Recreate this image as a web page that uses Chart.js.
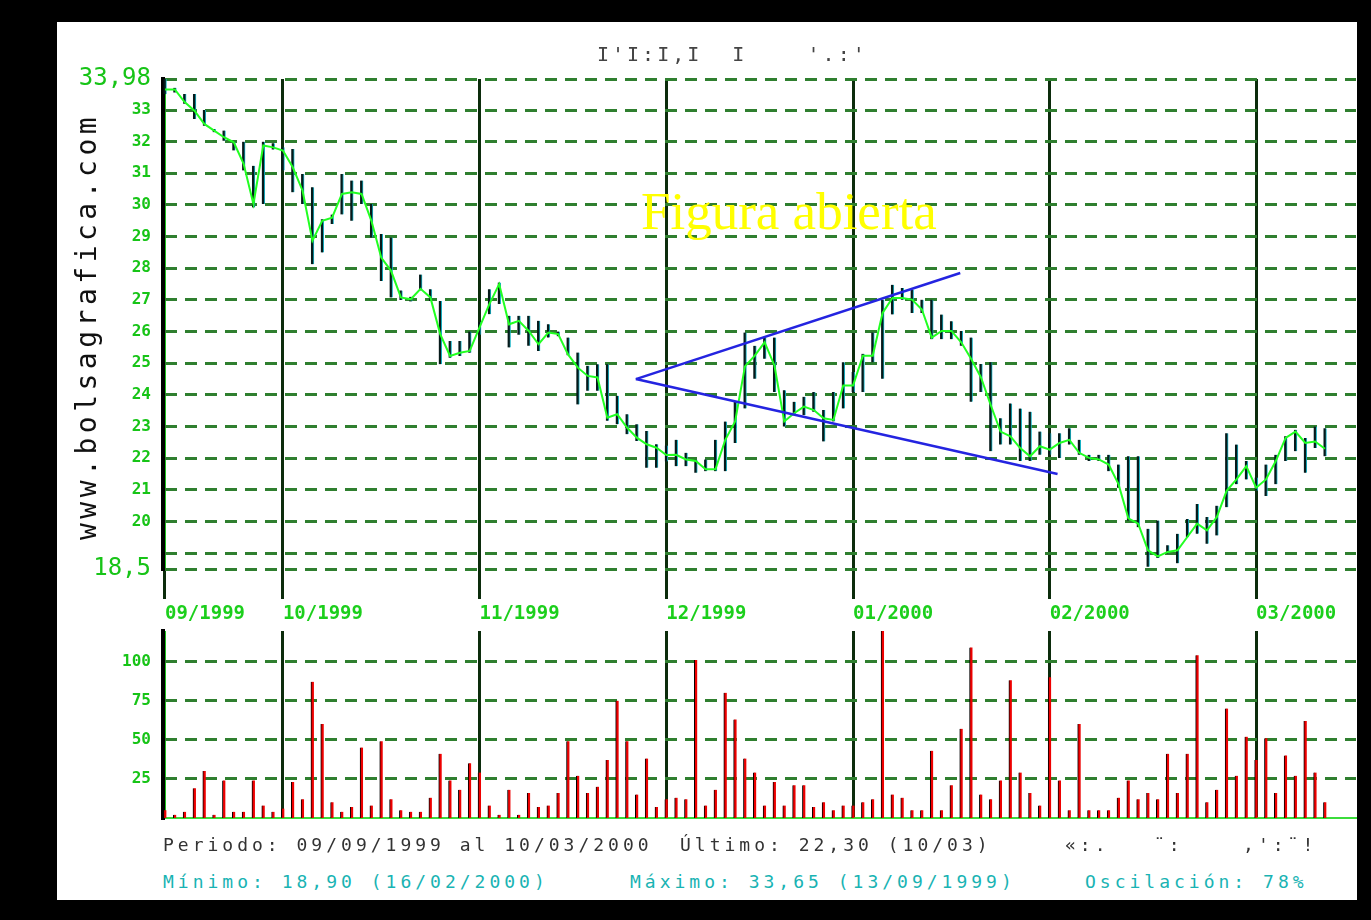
<!DOCTYPE html>
<html>
<head>
<meta charset="utf-8">
<script src="https://cdn.jsdelivr.net/npm/chart.js@4.4.1/dist/chart.umd.min.js"></script>
<style>
  html, body { margin: 0; padding: 0; background: #000; width: 1371px; height: 920px; overflow: hidden; }
  #sheet { position: absolute; left: 57px; top: 22px; width: 1300px; height: 878px; background: #fff; }
  canvas { position: absolute; }
  .txt { position: absolute; white-space: pre; font-family: "DejaVu Sans Mono", monospace; }
  .info { font-size: 18px; line-height: 20px; letter-spacing: 4px; }
</style>
</head>
<body>
<div id="sheet"></div>
<canvas id="price" width="1300" height="600" style="left:57px;top:22px"></canvas>
<canvas id="volume" width="1300" height="260" style="left:57px;top:596px"></canvas>

<div class="txt" style="left:597px;top:42px;font-size:20px;line-height:24px;color:#444;letter-spacing:3px">I'I:I,I  I    '.:'</div>
<div class="txt" style="left:641px;top:185px;font-family:'Liberation Serif',serif;font-size:53px;line-height:53px;color:#ffff00">Figura abierta</div>
<div class="txt" style="left:-133px;top:303px;width:440px;height:34px;line-height:34px;font-size:28px;letter-spacing:4.5px;color:#111;transform:rotate(-90deg)">www.bolsagrafica.com</div>

<div class="txt info" style="left:163px;top:835px;color:#333">Periodo: 09/09/1999 al 10/03/2000</div>
<div class="txt info" style="left:680px;top:835px;color:#333">Último: 22,30 (10/03)</div>
<div class="txt info" style="left:1065px;top:835px;color:#333">«:.   ¨:    ,':¨!</div>
<div class="txt info" style="left:163px;top:872px;color:#19b3b3">Mínimo: 18,90 (16/02/2000)</div>
<div class="txt info" style="left:630px;top:872px;color:#19b3b3">Máximo: 33,65 (13/09/1999)</div>
<div class="txt info" style="left:1085px;top:872px;color:#19b3b3">Oscilación: 78%</div>

<script>
// month boundaries (index of first session of each month)
const monthStarts = [0, 12, 32, 51, 70, 90, 111];
const monthLabels = ['09/1999', '10/1999', '11/1999', '12/1999', '01/2000', '02/2000', '03/2000'];

// daily sessions 09/09/1999 - 10/03/2000
const highs = [
  33.98, 33.70, 33.51, 33.51, 33.00, 32.40, 32.35, 32.00, 32.00, 31.24,
  32.00, 31.95, 31.82, 31.77, 30.98, 30.56, 29.55, 29.70, 30.98, 30.77,
  30.77, 30.03, 29.08, 28.97, 27.30, 27.10, 27.80, 27.34, 26.97, 25.70,
  25.70, 26.00, 26.30, 27.34, 27.55, 26.50, 26.50, 26.50, 26.34, 26.23,
  26.00, 25.81, 25.34, 24.92, 24.97, 24.97, 23.97, 23.39, 23.07, 22.86,
  22.44, 22.40, 22.58, 22.17, 21.95, 21.96, 22.58, 23.16, 23.78, 25.97,
  25.55, 25.81, 25.81, 24.15, 23.78, 23.94, 24.09, 23.52, 24.09, 25.03,
  24.72, 25.30, 25.97, 27.01, 27.48, 27.38, 27.32, 27.01, 27.01, 26.54,
  26.33, 26.02, 25.81, 24.98, 25.03, 23.26, 23.73, 23.57, 23.47, 22.84,
  22.79, 22.79, 22.95, 22.58, 22.11, 22.11, 22.11, 21.80, 22.06, 22.06,
  19.77, 20.03, 19.25, 19.61, 20.08, 20.55, 20.14, 20.50, 22.79, 22.43,
  21.91, 21.39, 21.80, 22.11, 22.69, 22.90, 22.64, 23.00, 22.95
];
const lows = [
  33.50, 33.55, 33.20, 32.72, 32.50, 32.30, 32.03, 31.72, 31.09, 29.92,
  30.03, 31.75, 31.09, 30.40, 30.03, 28.13, 28.50, 29.40, 29.70, 29.50,
  30.03, 28.97, 27.60, 27.08, 27.00, 26.95, 27.30, 26.97, 24.97, 25.17,
  25.23, 25.33, 25.90, 26.55, 26.87, 25.50, 25.90, 25.55, 25.39, 25.81,
  25.85, 25.25, 23.70, 24.13, 24.13, 23.18, 23.07, 22.76, 22.54, 21.70,
  21.70, 21.90, 21.75, 21.75, 21.54, 21.59, 21.59, 21.59, 22.48, 23.57,
  24.51, 25.14, 24.09, 23.00, 23.36, 23.36, 23.47, 22.53, 23.16, 23.57,
  24.09, 24.09, 25.03, 24.51, 26.54, 27.01, 26.59, 26.59, 25.76, 25.76,
  25.76, 25.55, 23.78, 24.09, 22.22, 22.43, 22.43, 21.91, 21.91, 22.11,
  22.11, 22.01, 22.43, 22.11, 21.91, 21.91, 21.59, 21.07, 20.03, 19.82,
  18.57, 18.85, 18.99, 18.68, 19.50, 19.61, 19.30, 19.56, 20.45, 21.18,
  21.33, 20.97, 20.81, 21.18, 21.91, 22.22, 21.54, 22.32, 22.06
];
const closes = [
  33.65, 33.65, 33.25, 32.98, 32.56, 32.35, 32.14, 31.98, 31.30, 30.03,
  31.88, 31.82, 31.72, 31.19, 30.45, 28.87, 29.50, 29.60, 30.35, 30.40,
  30.35, 29.50, 28.34, 27.92, 27.08, 27.02, 27.35, 27.08, 25.92, 25.23,
  25.33, 25.39, 26.13, 26.87, 27.50, 26.23, 26.34, 26.02, 25.60, 25.97,
  25.92, 25.28, 24.86, 24.60, 24.55, 23.28, 23.39, 22.97, 22.65, 22.44,
  22.33, 22.10, 22.11, 21.96, 21.91, 21.65, 21.65, 22.58, 23.16, 24.90,
  25.24, 25.66, 24.93, 23.16, 23.42, 23.63, 23.52, 23.26, 23.21, 24.30,
  24.30, 25.24, 25.24, 26.59, 27.06, 27.06, 27.01, 26.70, 25.81, 26.02,
  26.02, 25.66, 25.14, 24.56, 23.68, 22.84, 22.69, 22.32, 22.06, 22.38,
  22.27, 22.48, 22.58, 22.17, 22.01, 21.96, 21.80, 21.18, 20.10, 19.93,
  19.09, 18.90, 19.04, 19.09, 19.51, 19.93, 19.72, 20.14, 20.97, 21.33,
  21.75, 21.07, 21.33, 21.91, 22.64, 22.84, 22.48, 22.53, 22.30
];
const volumes = [
  5, 2, 4, 19, 30, 2, 24, 4, 4, 24,
  8, 4, 6, 23, 12, 87, 60, 10, 4, 7,
  45, 8, 49, 12, 5, 4, 4, 13, 41, 24,
  18, 35, 29, 8, 2, 18, 2, 16, 7, 8,
  16, 49, 27, 16, 20, 37, 75, 49, 15, 38,
  7, 12, 13, 12, 101, 8, 18, 80, 63, 38,
  29, 8, 23, 8, 21, 21, 7, 10, 5, 8,
  8, 10, 12, 125, 15, 13, 5, 5, 43, 5,
  21, 57, 109, 15, 12, 24, 88, 29, 16, 8,
  90, 24, 5, 60, 5, 5, 5, 13, 24, 12,
  16, 12, 41, 16, 41, 104, 10, 18, 70, 27,
  52, 37, 51, 16, 40, 27, 62, 29, 10
];

// hand-drawn triangle lines (session index, price)
const trendUpperX = [47.9, 80.9];
const trendUpperY = [24.5, 27.85];
const trendLowerX = [47.9, 90.8];
const trendLowerY = [24.5, 21.5];

const priceTicks = [18.5, 19, 20, 21, 22, 23, 24, 25, 26, 27, 28, 29, 30, 31, 32, 33, 33.98];
const priceTickLabels = ['18,5', '', '20', '21', '22', '23', '24', '25', '26', '27', '28', '29', '30', '31', '32', '33', '33,98'];
const volumeTicks = [25, 50, 75, 100];
const volumeTickLabels = ['25', '50', '75', '100'];

const MONO = 'DejaVu Sans Mono';
const xMin = -0.2, xMax = 121.16;

const tickValue = c => (c && c.tick) ? c.tick.value : null;

function monthAxis(withLabels) {
  return {
    type: 'linear',
    min: xMin,
    max: xMax,
    offset: false,
    afterBuildTicks: s => { s.ticks = monthStarts.map(v => ({ value: v })); },
    afterFit: s => { s.height = withLabels ? 53 : 8; s.paddingLeft = 0; s.paddingRight = 0; },
    ticks: {
      display: withLabels,
      autoSkip: false,
      maxRotation: 0,
      align: 'start',
      padding: 4,
      color: '#1ccf1c',
      font: { family: MONO, size: 19, weight: 'bold' },
      callback: v => monthLabels[monthStarts.indexOf(v)]
    },
    grid: {
      offset: false,
      color: c => tickValue(c) === 0 ? '#1fc41f' : '#0c2c0c',
      lineWidth: 3,
      drawTicks: withLabels,
      tickLength: 30,
      tickWidth: 3,
      tickColor: '#0c2c0c'
    },
    border: withLabels ? { display: false } : { display: true, color: '#3bdc3b', width: 2 }
  };
}

function valueAxis(min, max, ticks, labels, fontFn) {
  return {
    min: min,
    max: max,
    beginAtZero: false,
    afterBuildTicks: s => { s.ticks = ticks.map(v => ({ value: v })); },
    afterFit: s => { s.width = 106; s.paddingTop = 0; s.paddingBottom = 0; },
    ticks: {
      autoSkip: false,
      padding: 12,
      color: '#17c417',
      font: fontFn,
      callback: v => labels[ticks.indexOf(v)]
    },
    grid: { color: '#2f7f2f', lineWidth: 3, drawTicks: false },
    border: { display: true, color: '#000', width: 4, dash: [12, 8] }
  };
}

const bigTick = v => v === 33.98 || v === 18.5;

new Chart(document.getElementById('price'), {
  type: 'bar',
  data: {
    datasets: [
      {
        type: 'line',
        data: trendUpperX.map((x, k) => ({ x: x, y: trendUpperY[k] })),
        borderColor: '#2424e0',
        borderWidth: 2.5,
        pointRadius: 0,
        order: 0
      },
      {
        type: 'line',
        data: trendLowerX.map((x, k) => ({ x: x, y: trendLowerY[k] })),
        borderColor: '#2424e0',
        borderWidth: 2.5,
        pointRadius: 0,
        order: 0
      },
      {
        type: 'line',
        data: closes.map((c, k) => ({ x: k, y: c })),
        borderColor: '#22ff22',
        borderWidth: 2,
        pointRadius: 0,
        tension: 0,
        order: 1
      },
      {
        type: 'bar',
        data: highs.map((h, k) => ({ x: k, y: [lows[k], h] })),
        barThickness: 3,
        backgroundColor: '#061a1a',
        borderColor: '#17b3c6',
        borderWidth: { left: 0, right: 1, top: 0, bottom: 0 },
        borderSkipped: false,
        grouped: false,
        order: 2
      }
    ]
  },
  options: {
    responsive: false,
    animation: false,
    layout: { padding: { top: 57, right: 1, bottom: 0, left: 0 } },
    plugins: { legend: { display: false }, tooltip: { enabled: false } },
    scales: {
      x: monthAxis(true),
      y: valueAxis(18.5, 33.98, priceTicks, priceTickLabels, c =>
        bigTick(tickValue(c))
          ? { family: MONO, size: 24 }
          : { family: MONO, size: 16, weight: 'bold' })
    }
  }
});

new Chart(document.getElementById('volume'), {
  type: 'bar',
  data: {
    datasets: [{
      data: volumes.map((v, k) => ({ x: k, y: v })),
      barThickness: 3,
      backgroundColor: '#ee0000',
      borderColor: '#000',
      borderWidth: { left: 1, right: 0, top: 0, bottom: 0 },
      borderSkipped: false
    }]
  },
  options: {
    responsive: false,
    animation: false,
    layout: { padding: { top: 35, right: 1, bottom: 30, left: 0 } },
    plugins: { legend: { display: false }, tooltip: { enabled: false } },
    scales: {
      x: monthAxis(false),
      y: valueAxis(0, 119.5, volumeTicks, volumeTickLabels, () => ({ family: MONO, size: 16, weight: 'bold' }))
    }
  }
});
</script>
</body>
</html>
